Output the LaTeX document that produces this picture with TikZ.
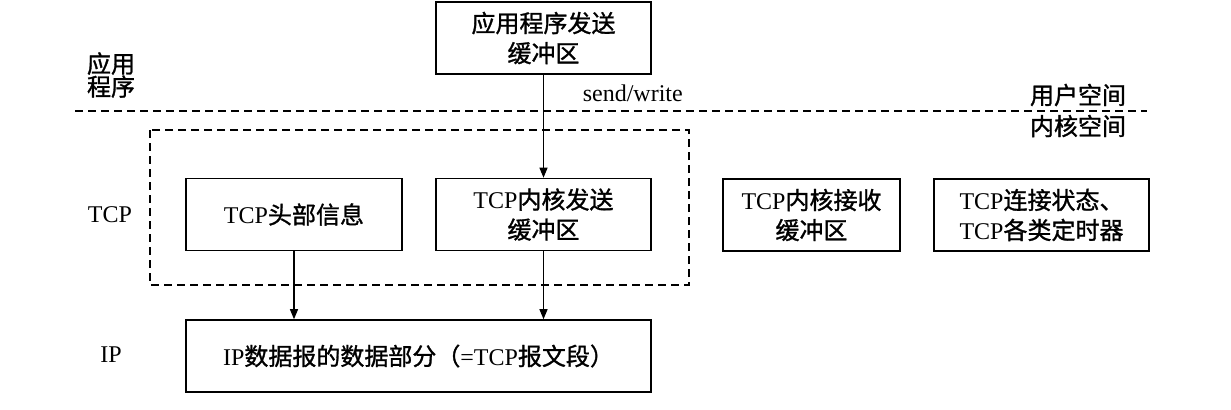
\documentclass[tikz,border=0pt]{standalone}
\usepackage{fontspec}
\setmainfont{Liberation Serif}
\newfontfamily\cjk[FakeBold=1.2]{Noto Sans CJK SC}
\usetikzlibrary{arrows.meta}

\tikzset{
  buf/.style={draw, line width=0.8pt, align=center, inner sep=0pt,
    minimum height=36pt, font=\fontsize{12}{15}\selectfont},
  lbl/.style={align=center, font=\fontsize{12}{11.5}\selectfont},
  link/.style={line width=0.6pt, -{Triangle[length=5pt,width=4pt]}},
  sep/.style={line width=0.7pt, dash pattern=on 4pt off 2.5pt}
}

\begin{document}
\begin{tikzpicture}[x=0.5pt, y=-0.5pt]
      \useasboundingbox (0,0) rectangle (1231,409);
      \node[buf, minimum width=107.5pt] (appbuf) at (543.5,38) {{\cjk 应用程序发送}\\{\cjk 缓冲区}};
      \node[buf, minimum width=108pt] (tcphdr) at (294,214.5) {TCP{\cjk 头部信息}};
      \node[buf, minimum width=107.5pt] (tcpsnd) at (543.5,214.5) {TCP{\cjk 内核发送}\\{\cjk 缓冲区}};
      \node[buf, minimum width=88.5pt] (tcprcv) at (811.5,215) {TCP{\cjk 内核接收}\\{\cjk 缓冲区}};
      \node[buf, minimum width=107.5pt] (tcpstate) at (1041.5,215) {TCP{\cjk 连接状态、}\\TCP{\cjk 各类定时器}};
      \node[buf, minimum width=232.5pt] (ipdata) at (418.5,356) {IP{\cjk 数据报的数据部分（}=TCP{\cjk 报文段）}};

      \node[lbl] (applbl) at (111,75) {{\cjk 应用}\\{\cjk 程序}};
      \node[lbl] (tcplbl) at (110,215) {TCP};
      \node[lbl] (iplbl) at (111,355) {IP};
      \node[lbl] (userlbl) at (1078,95) {\cjk 用户空间};
      \node[lbl] (kernlbl) at (1078,126) {\cjk 内核空间};

      \draw[sep] (75,111) -- (1147,111);
      \draw[sep] (150,130) rectangle (689,285);

      \draw[link] (appbuf) -- node[pos=0.18, right=16pt, font=\fontsize{12}{14}\selectfont] (sendlbl) {send/write} (tcpsnd);
      \draw[link] (tcphdr.south) -- (tcphdr.south |- ipdata.north);
      \draw[link] (tcpsnd.south) -- (tcpsnd.south |- ipdata.north);
\end{tikzpicture}
\end{document}
